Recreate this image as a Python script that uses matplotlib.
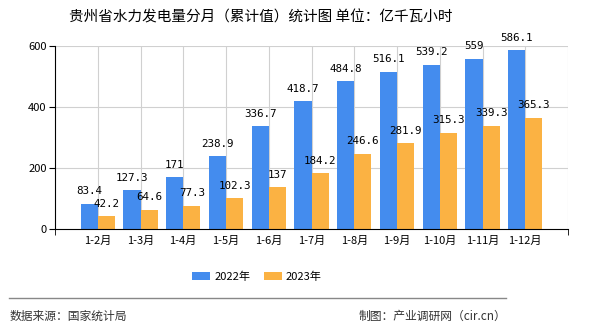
import numpy as np
import matplotlib
matplotlib.use('Agg')
from matplotlib import pyplot as plt

plt.rcParams['font.family'] = ['Noto Sans CJK SC', 'DejaVu Sans']

categories = ['1-2月', '1-3月', '1-4月', '1-5月', '1-6月', '1-7月',
              '1-8月', '1-9月', '1-10月', '1-11月', '1-12月']
values_2022 = [83.4, 127.3, 171, 238.9, 336.7, 418.7, 484.8, 516.1, 539.2, 559, 586.1]
values_2023 = [42.2, 64.6, 77.3, 102.3, 137, 184.2, 246.6, 281.9, 315.3, 339.3, 365.3]
labels_2022 = ['83.4', '127.3', '171', '238.9', '336.7', '418.7', '484.8', '516.1', '539.2', '559', '586.1']
labels_2023 = ['42.2', '64.6', '77.3', '102.3', '137', '184.2', '246.6', '281.9', '315.3', '339.3', '365.3']

blue = '#448CEE'
orange = '#FBB243'

fig = plt.figure(figsize=(5.9, 3.3), dpi=100)
ax = fig.add_axes([55/590, 1 - 229.3/330, (568-55)/590, (229.3-46)/330])

x = np.arange(1, len(categories) + 1)
w = 0.4
ax.bar(x - w/2, values_2022, width=w, color=blue, label='2022年', zorder=2)
ax.bar(x + w/2, values_2023, width=w, color=orange, label='2023年', zorder=2)

# 막대 위 값 표시
for xi, v, t in zip(x, values_2022, labels_2022):
    ax.annotate(t, (xi - w/2, v), xytext=(0, 9), textcoords='offset points',
                ha='center', va='center', fontsize=7.8, family=['DejaVu Sans Mono'], zorder=3)
for xi, v, t in zip(x, values_2023, labels_2023):
    ax.annotate(t, (xi + w/2, v), xytext=(0, 9), textcoords='offset points',
                ha='center', va='center', fontsize=7.8, family=['DejaVu Sans Mono'], zorder=3)

ax.set_xlim(0, 12)
ax.set_ylim(0, 600)
ax.set_yticks([0, 200, 400, 600])
ax.set_xticks(x)
ax.set_xticklabels(categories, fontsize=8)
ax.set_xticks([0, 12], minor=True)
ax.tick_params(axis='x', which='major', length=0, pad=5)
ax.tick_params(axis='x', which='minor', length=4, color='black')
ax.tick_params(axis='y', length=4, labelsize=8, pad=2)

for xv in list(x) + [12]:
    ax.axvline(xv, color='#d0d0d0', lw=0.8, zorder=1)
for yv in [200, 400, 600]:
    ax.axhline(yv, color='#d0d0d0', lw=0.8, zorder=1)

ax.spines['top'].set_visible(False)
ax.spines['right'].set_visible(False)
ax.spines['left'].set_color('black')
ax.spines['bottom'].set_color('black')

fig.text(261/590, 1 - 17/330, '贵州省水力发电量分月（累计值）统计图 单位：亿千瓦小时',
         ha='center', va='center', fontsize=10.5)

fig.legend(loc='center', bbox_to_anchor=(257/590, 1 - 277/330), ncol=2, frameon=False,
           fontsize=8, handlelength=1.6, handleheight=0.7, columnspacing=1.2, handletextpad=0.4)

fig.add_artist(plt.Line2D([9/590, 506/590], [1 - 298/330, 1 - 298/330], color='#888888', lw=1))
fig.text(10/590, 1 - 316/330, '数据来源：国家统计局', ha='left', va='center', fontsize=8.5, color='#333333')
fig.text(506/590, 1 - 316/330, '制图：产业调研网（cir.cn）', ha='right', va='center', fontsize=8.5, color='#333333')

fig.savefig('out.png', dpi=100)
